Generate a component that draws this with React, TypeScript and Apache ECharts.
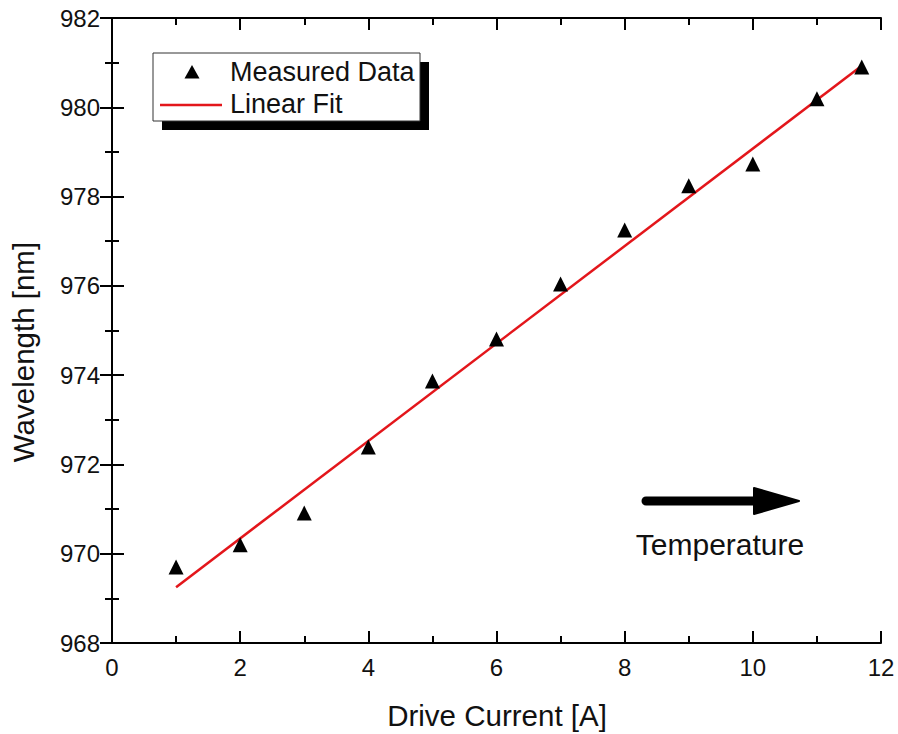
import React, { useEffect, useRef } from "react";
import * as echarts from "echarts";

const driveCurrent = [1, 2, 3, 4, 5, 6, 7, 8, 9, 10, 11, 11.7];
const wavelength = [969.7, 970.2, 970.91, 972.39, 973.87, 974.81, 976.04, 977.25, 978.24, 978.73, 980.19, 980.9];
const fitX = [1, 11.7];
const fitY = [969.25, 980.93];
const xTicks = { min: 0, max: 12, interval: 2 };
const yTicks = { min: 968, max: 982, interval: 2 };
const legendLabels = ["Measured Data", "Linear Fit"];
const xTitle = "Drive Current [A]";
const yTitle = "Wavelength [nm]";
const noteText = "Temperature";

const FONT = "'Liberation Sans', Arial, Helvetica, sans-serif";
const RED = "#e3161b";

export default function App() {
  const ref = useRef<HTMLDivElement>(null);
  useEffect(() => {
    if (!ref.current) return;
    const chart = echarts.init(ref.current, null, { renderer: "svg" });
    const axisCommon = (showLabel: boolean) => ({
      axisLine: { show: true, lineStyle: { color: "#000", width: 2 } },
      axisTick: { show: true, inside: true, length: 12, lineStyle: { color: "#000", width: 2 } },
      minorTick: { show: true, splitNumber: 2, length: 7, lineStyle: { color: "#000", width: 2 } },
      splitLine: { show: false },
      axisLabel: {
        show: showLabel,
        color: "#111",
        fontSize: 24,
        fontFamily: FONT,
        margin: 12,
      },
    });
    const pts = driveCurrent.map((x, i) => [x, wavelength[i]]);
    const fit = fitX.map((x, i) => [x, fitY[i]]);
    chart.setOption({
      animation: false,
      backgroundColor: "#fff",
      grid: { left: 112, top: 18, width: 769, height: 625, outerBoundsMode: "none", containLabel: false },
      xAxis: [
        { type: "value", position: "bottom", ...xTicks, ...axisCommon(true) },
        { type: "value", position: "top", ...xTicks, ...axisCommon(false) },
      ],
      yAxis: [
        { type: "value", position: "left", ...yTicks, ...axisCommon(true) },
        { type: "value", position: "right", ...yTicks, ...axisCommon(false) },
      ],
      series: [
        {
          name: legendLabels[1],
          type: "line",
          data: fit,
          showSymbol: false,
          symbol: "none",
          lineStyle: { color: RED, width: 2.5 },
          z: 2,
        },
        {
          name: legendLabels[0],
          type: "scatter",
          data: pts,
          symbol: "triangle",
          symbolSize: 15,
          itemStyle: { color: "#000", opacity: 1 },
          z: 3,
        },
      ],
      graphic: [
        // legend shadow and box
        { type: "rect", shape: { x: 162, y: 62, width: 267, height: 68 }, style: { fill: "#000" }, z: 10 },
        { type: "rect", shape: { x: 153, y: 53, width: 267, height: 68 }, style: { fill: "#fff", stroke: "#333", lineWidth: 1 }, z: 11 },
        { type: "polygon", shape: { points: [[192, 65], [199.5, 78.5], [184.5, 78.5]] }, style: { fill: "#000" }, z: 12 },
        { type: "line", shape: { x1: 160, y1: 105, x2: 222, y2: 105 }, style: { stroke: RED, lineWidth: 2.5 }, z: 12 },
        { type: "text", x: 230, y: 72, style: { text: legendLabels[0], font: `27px ${FONT}`, fill: "#111", verticalAlign: "middle", align: "left" }, z: 12 },
        { type: "text", x: 230, y: 104, style: { text: legendLabels[1], font: `27px ${FONT}`, fill: "#111", verticalAlign: "middle", align: "left" }, z: 12 },
        // temperature arrow
        { type: "line", shape: { x1: 646, y1: 501, x2: 762, y2: 501 }, style: { stroke: "#000", lineWidth: 9, lineCap: "round" }, z: 12 },
        { type: "polygon", shape: { points: [[754, 488], [799, 501], [754, 514]] }, style: { fill: "#000", stroke: "#000", lineWidth: 2, lineJoin: "round" }, z: 12 },
        { type: "text", x: 720, y: 544, style: { text: noteText, font: `30px ${FONT}`, fill: "#111", align: "center", verticalAlign: "middle" }, z: 12 },
        // axis titles
        { type: "text", x: 497, y: 715, style: { text: xTitle, font: `29.5px ${FONT}`, fill: "#111", align: "center", verticalAlign: "middle" }, z: 12 },
        { type: "text", x: 23, y: 352, rotation: Math.PI / 2, style: { text: yTitle, font: `29.5px ${FONT}`, fill: "#111", align: "center", verticalAlign: "middle" }, z: 12 },
      ],
    });
    return () => chart.dispose();
  }, []);
  return <div ref={ref} style={{ width: 898, height: 734, position: "absolute", left: 0, top: 0 }} />;
}
